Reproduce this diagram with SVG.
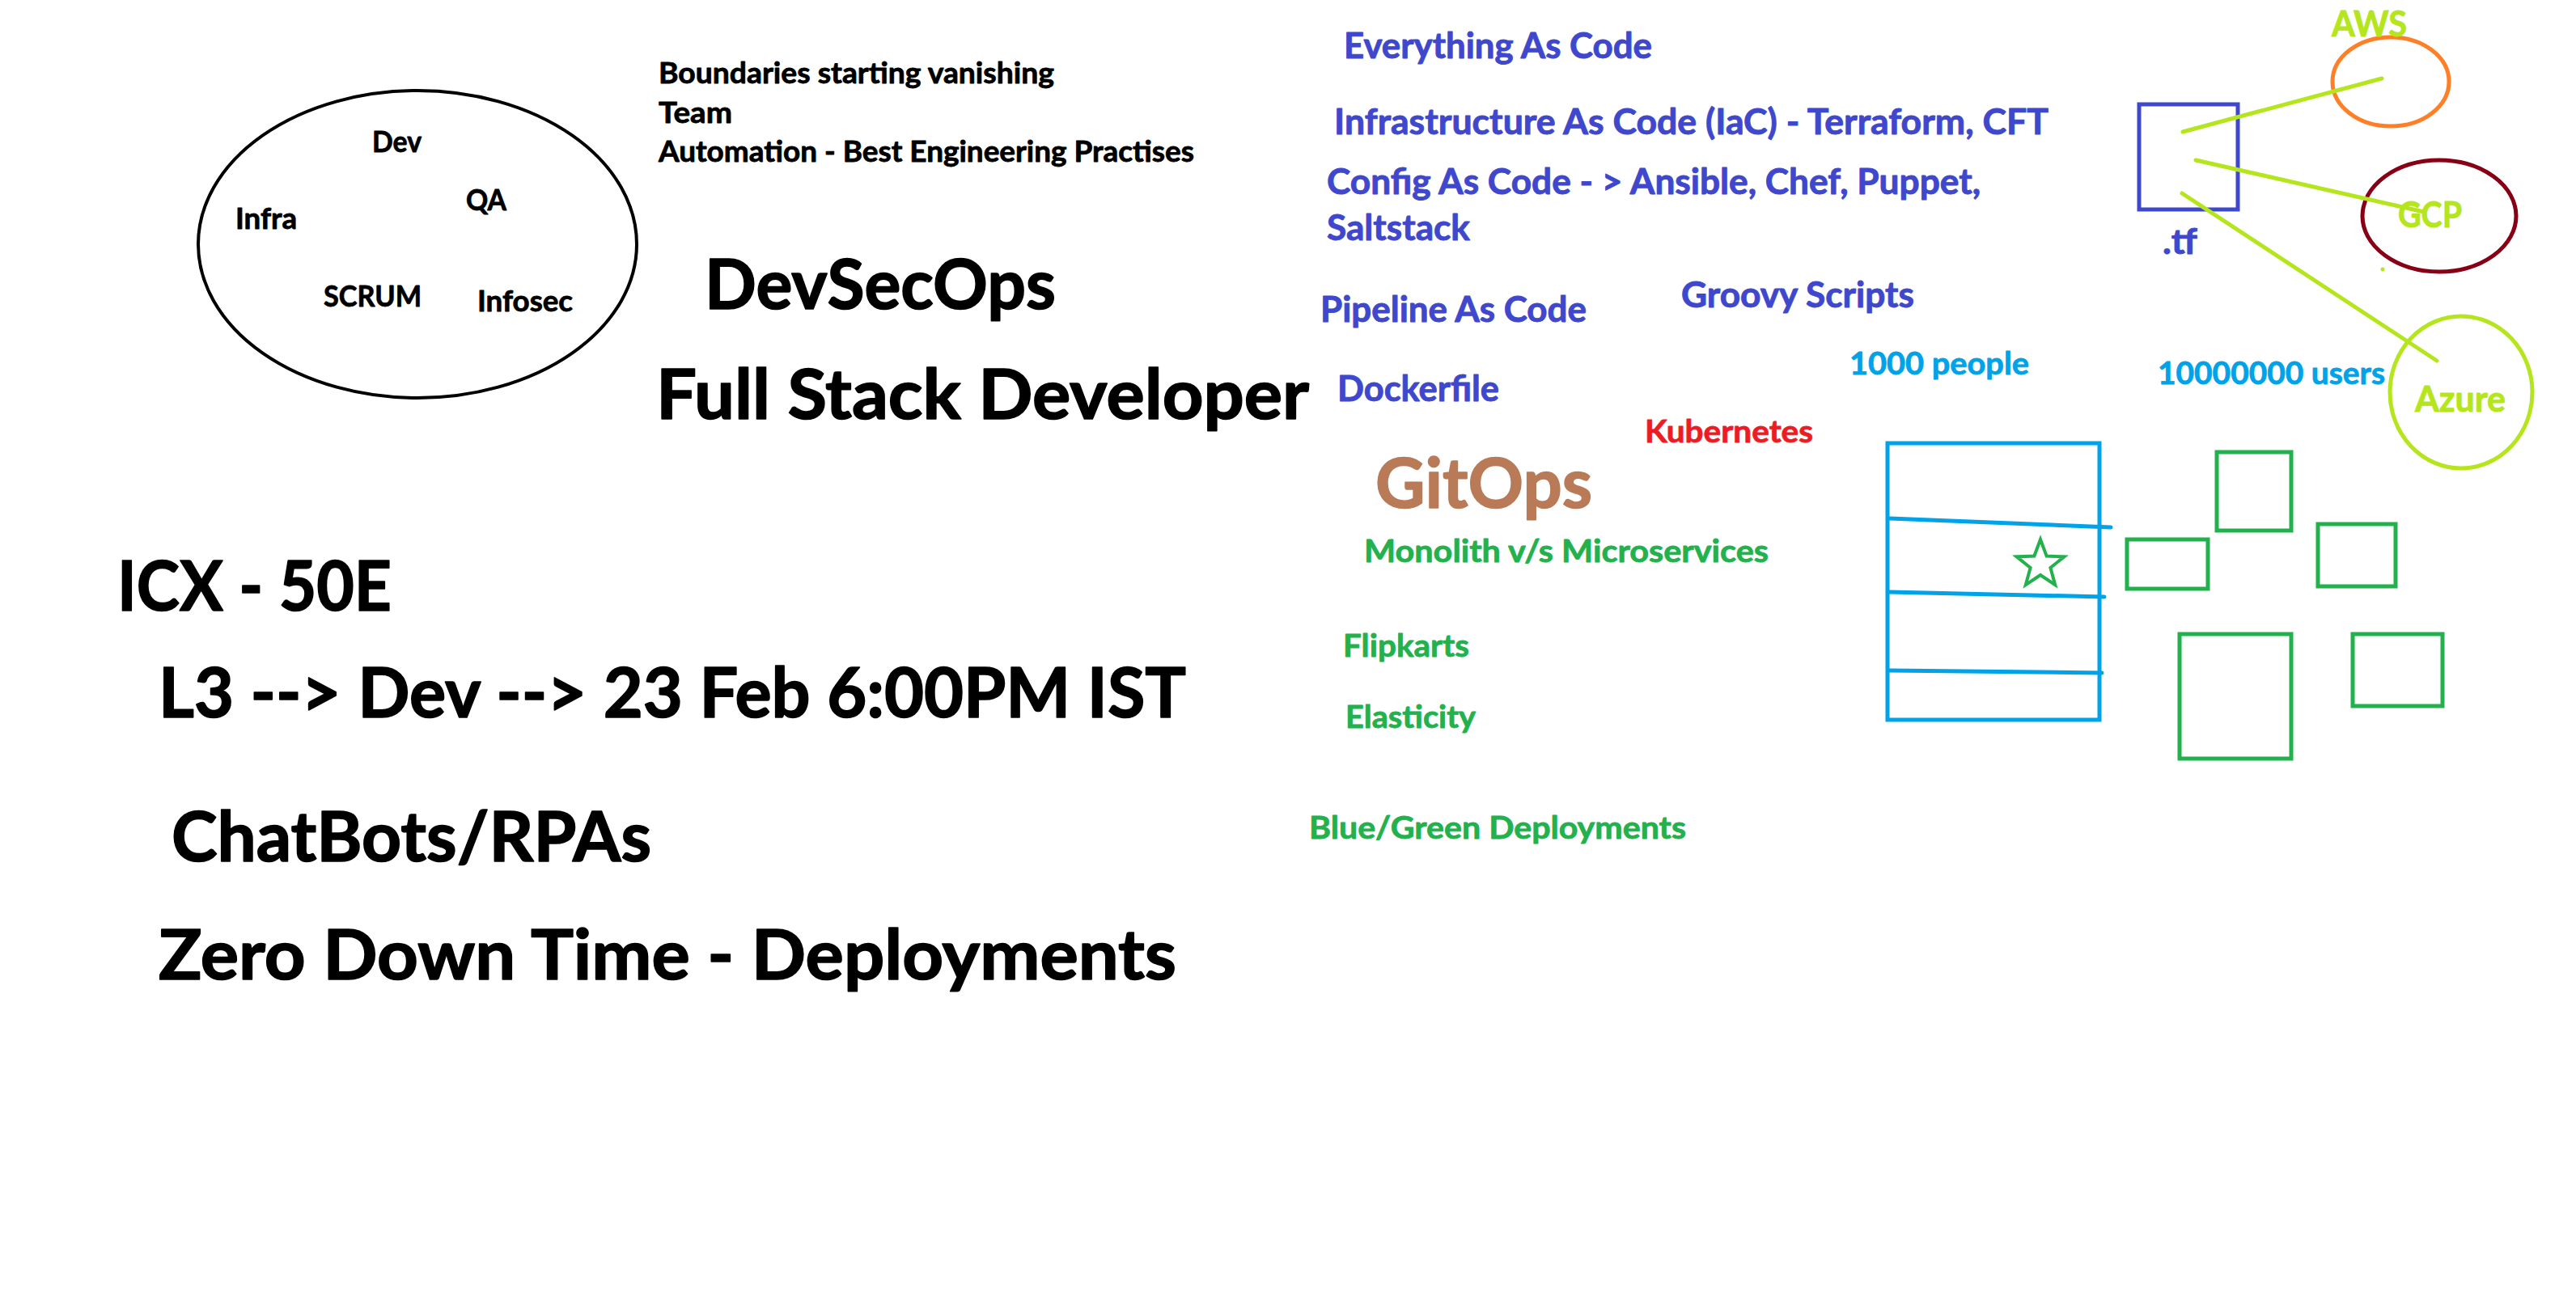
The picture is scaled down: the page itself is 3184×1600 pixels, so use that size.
<svg xmlns="http://www.w3.org/2000/svg" width="3184" height="1600" viewBox="0 0 3184 1600">
<style>
text{font-family:Lato,"Open Sans",sans-serif;font-weight:700;stroke-linejoin:round}
.s{font-size:36px;fill:#000;stroke:#000;stroke-width:0.8}
.b{font-size:86px;fill:#000;stroke:#000;stroke-width:1.6}
.m{font-size:43px;fill:#3F48CC;stroke:#3F48CC;stroke-width:0.9}
.g{font-size:39px;fill:#22B14C;stroke:#22B14C;stroke-width:0.8}
.t{font-size:39px;fill:#00A2E8;stroke:#00A2E8;stroke-width:0.8}
.l{font-size:43px;fill:#B5E61D;stroke:#B5E61D;stroke-width:0.9}
.r{font-size:39px;fill:#ED1C24;stroke:#ED1C24;stroke-width:0.8}
.o{font-size:86px;fill:#B97A57;stroke:#B97A57;stroke-width:1.6}
.sh{fill:none;stroke-width:5}
</style>
<rect width="3184" height="1600" fill="#fff"/>
<g id="team-ellipse">
<ellipse cx="516" cy="302" rx="271" ry="190" fill="none" stroke="#000" stroke-width="4"/>
<text class="s" x="460" y="188" textLength="61" lengthAdjust="spacingAndGlyphs">Dev</text>
<text class="s" x="576" y="260" textLength="50" lengthAdjust="spacingAndGlyphs">QA</text>
<text class="s" x="291" y="283" textLength="76" lengthAdjust="spacingAndGlyphs">Infra</text>
<text class="s" x="400" y="379" textLength="121" lengthAdjust="spacingAndGlyphs">SCRUM</text>
<text class="s" x="590" y="385" textLength="118" lengthAdjust="spacingAndGlyphs">Infosec</text>
</g>
<g id="notes">
<text class="s" x="814" y="103" textLength="489" lengthAdjust="spacingAndGlyphs">Boundaries starting vanishing</text>
<text class="s" x="814" y="152" textLength="91" lengthAdjust="spacingAndGlyphs">Team</text>
<text class="s" x="814" y="200" textLength="662" lengthAdjust="spacingAndGlyphs">Automation - Best Engineering Practises</text>
<text class="b" x="871" y="382" textLength="434" lengthAdjust="spacingAndGlyphs">DevSecOps</text>
<text class="b" x="811" y="518" textLength="807" lengthAdjust="spacingAndGlyphs">Full Stack Developer</text>
<text class="b" x="145" y="755" textLength="339" lengthAdjust="spacingAndGlyphs">ICX - 50E</text>
<text class="b" x="196" y="887" textLength="1270" lengthAdjust="spacingAndGlyphs">L3 --&gt; Dev --&gt; 23 Feb 6:00PM IST</text>
<text class="b" x="212" y="1065" textLength="593" lengthAdjust="spacingAndGlyphs">ChatBots/RPAs</text>
<text class="b" x="196" y="1211" textLength="1258" lengthAdjust="spacingAndGlyphs">Zero Down Time - Deployments</text>
</g>
<g id="as-code">
<text class="m" x="1661" y="72" textLength="381" lengthAdjust="spacingAndGlyphs">Everything As Code</text>
<text class="m" x="1649" y="166" textLength="883" lengthAdjust="spacingAndGlyphs">Infrastructure As Code (IaC) - Terraform, CFT</text>
<text class="m" x="1640" y="240" textLength="808" lengthAdjust="spacingAndGlyphs">Config As Code - &gt; Ansible, Chef, Puppet,</text>
<text class="m" x="1640" y="297" textLength="177" lengthAdjust="spacingAndGlyphs">Saltstack</text>
<text class="m" x="1632" y="398" textLength="329" lengthAdjust="spacingAndGlyphs">Pipeline As Code</text>
<text class="m" x="2078" y="380" textLength="288" lengthAdjust="spacingAndGlyphs">Groovy Scripts</text>
<text class="m" x="1653" y="496" textLength="200" lengthAdjust="spacingAndGlyphs">Dockerfile</text>
<text class="r" x="2033" y="547" textLength="208" lengthAdjust="spacingAndGlyphs">Kubernetes</text>
<text class="o" x="1700" y="628" textLength="268" lengthAdjust="spacingAndGlyphs">GitOps</text>
<text class="g" x="1686" y="695" textLength="500" lengthAdjust="spacingAndGlyphs">Monolith v/s Microservices</text>
<text class="g" x="1660" y="812" textLength="156" lengthAdjust="spacingAndGlyphs">Flipkarts</text>
<text class="g" x="1663" y="900" textLength="161" lengthAdjust="spacingAndGlyphs">Elasticity</text>
<text class="g" x="1618" y="1037" textLength="466" lengthAdjust="spacingAndGlyphs">Blue/Green Deployments</text>
<text class="t" x="2286" y="463" textLength="222" lengthAdjust="spacingAndGlyphs">1000 people</text>
<text class="t" x="2667" y="475" textLength="281" lengthAdjust="spacingAndGlyphs">10000000 users</text>
</g>
<g id="tf-file">
<rect class="sh" x="2644" y="129" width="122" height="130" stroke="#3F48CC"/>
<text class="m" x="2673" y="314" textLength="43" lengthAdjust="spacingAndGlyphs">.tf</text>
</g>
<g id="aws">
<ellipse class="sh" cx="2955" cy="101" rx="72" ry="55" stroke="#FF7F27"/>
<text class="l" x="2882" y="45" textLength="93" lengthAdjust="spacingAndGlyphs">AWS</text>
</g>
<g id="gcp">
<ellipse class="sh" cx="3015" cy="267" rx="95" ry="69" stroke="#880015"/>
<text class="l" x="2964" y="281" textLength="79" lengthAdjust="spacingAndGlyphs">GCP</text>
<circle cx="2945" cy="333" r="2.5" fill="#B5E61D"/>
</g>
<g id="azure">
<ellipse class="sh" cx="3042" cy="485" rx="88" ry="94" stroke="#B5E61D"/>
<text class="l" x="2985" y="509" textLength="112" lengthAdjust="spacingAndGlyphs">Azure</text>
</g>
<g id="monolith">
<rect x="2333" y="548" width="262" height="342" fill="none" stroke="#00A2E8" stroke-width="5"/>
<path d="M2336 641 L2609 652 M2335 732 L2601 738 M2335 829 L2598 832" fill="none" stroke="#00A2E8" stroke-width="5" stroke-linecap="round"/>
<polygon points="2522,667 2529.6,687.5 2551.5,688.4 2534.4,702 2540.2,723.1 2522,711 2503.8,723.1 2509.6,702 2492.5,688.4 2514.4,687.5" fill="none" stroke="#22B14C" stroke-width="4" stroke-linejoin="miter"/>
</g>
<g id="microservices" fill="none" stroke="#22B14C" stroke-width="5">
<rect x="2740" y="559" width="92" height="97"/>
<rect x="2629" y="667" width="100" height="61"/>
<rect x="2865" y="648" width="96" height="77"/>
<rect x="2694" y="784" width="138" height="154"/>
<rect x="2908" y="784" width="111" height="89"/>
</g>
<g id="connectors" stroke="#B5E61D" stroke-width="5" stroke-linecap="round" fill="none">
<line x1="2698" y1="163" x2="2944" y2="97"/>
<line x1="2714" y1="198" x2="2996" y2="262"/>
<line x1="2697" y1="239" x2="3012" y2="446"/>
</g>
</svg>
